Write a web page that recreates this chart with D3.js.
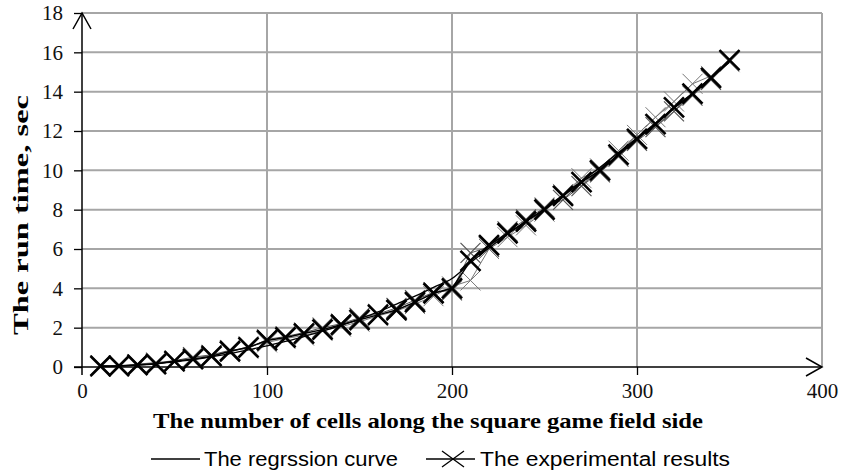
<!DOCTYPE html>
<html><head><meta charset="utf-8">
<script src="https://cdn.jsdelivr.net/npm/d3@7"></script>
<style>body{margin:0;background:#fff}svg{display:block}</style>
</head><body><svg id="c" width="841" height="475"></svg>
<script>
const xTicks = [0,100,200,300,400];
const yTicks = [0,2,4,6,8,10,12,14,16,18];
const cells = [10,20,30,40,50,60,70,80,90,100,110,120,130,140,150,160,170,180,190,200,210,220,230,240,250,260,270,280,290,300,310,320,330,340,350];
const experimental = [0.05,0.05,0.1,0.15,0.3,0.4,0.55,0.8,1.0,1.35,1.5,1.7,1.9,2.15,2.4,2.65,2.9,3.3,3.75,4.0,5.4,6.2,6.8,7.4,8.0,8.7,9.4,10.0,10.8,11.6,12.35,13.2,13.9,14.7,15.6];
const experimental2 = [0.02,0.08,0.12,0.2,0.25,0.45,0.6,0.75,1.05,1.25,1.45,1.6,1.85,2.05,2.3,2.6,2.85,3.2,3.6,4.1,4.4,6.0,6.6,7.2,7.9,8.8,9.6,10.1,11.0,11.8,12.7,13.5,14.4,14.8,15.5];
const experimental3 = [0.08,0.03,0.15,0.22,0.32,0.5,0.62,0.85,0.95,1.4,1.55,1.75,2.0,2.2,2.5,2.7,3.0,3.4,3.8,3.9,5.8,6.1,6.9,7.5,8.1,8.5,9.2,9.9,10.7,11.5,12.2,13.0,13.8,14.6,15.6];
const regression = [0.02,0.05,0.1,0.17,0.26,0.38,0.52,0.68,0.87,1.08,1.3,1.55,1.82,2.12,2.45,2.8,3.2,3.6,4.05,4.5,5.3,6.05,6.75,7.4,8.05,8.75,9.45,10.15,10.9,11.65,12.4,13.15,13.9,14.7,15.5];
const xTitle = "The number  of cells along the square game field side";
const yTitle = "The run time, sec";
const legendLabels = ["The regrssion curve","The experimental results"];

const svg = d3.select("#c");
const x = d3.scaleLinear().domain([0,400]).range([82,822]);
const y = d3.scaleLinear().domain([0,18]).range([367,13]);
const serif = "'Liberation Serif','Times New Roman',serif";
const sans = "'Liberation Sans',Arial,sans-serif";

// grid
svg.append("g").selectAll("line").data(yTicks.slice(1)).join("line")
  .attr("x1",x(0)).attr("x2",x(400)).attr("y1",d=>y(d)).attr("y2",d=>y(d))
  .attr("stroke","#a6a6a6").attr("stroke-width",2);
svg.append("g").selectAll("line").data(xTicks.slice(1)).join("line")
  .attr("y1",y(0)).attr("y2",y(18)).attr("x1",d=>x(d)).attr("x2",d=>x(d))
  .attr("stroke","#a6a6a6").attr("stroke-width",2);

// axes
const ax = svg.append("g").attr("transform",`translate(0,${y(0)})`)
  .call(d3.axisBottom(x).tickValues(xTicks).tickSize(8).tickPadding(10));
const ay = svg.append("g").attr("transform",`translate(${x(0)},0)`)
  .call(d3.axisLeft(y).tickValues(yTicks).tickSize(8).tickPadding(11));
[ax,ay].forEach(a=>{
  a.select(".domain").remove();
  a.selectAll(".tick line").attr("stroke","#000").attr("stroke-width",1.3);
  a.selectAll("text").attr("font-family",serif).attr("font-size",21).attr("fill","#111");
});
ax.selectAll("text").attr("dy","0.62em");
ax.selectAll(".tick").filter(d=>d===0).select("line").remove();
ax.selectAll(".tick").filter(d=>d===400).select("line").remove();
// axis lines with arrows
svg.append("line").attr("x1",x(0)).attr("x2",x(0)).attr("y1",y(0)+8).attr("y2",y(18))
  .attr("stroke","#000").attr("stroke-width",1.5);
svg.append("line").attr("x1",x(0)-8).attr("x2",x(400)).attr("y1",y(0)).attr("y2",y(0))
  .attr("stroke","#000").attr("stroke-width",1.5);
svg.append("path").attr("d",`M${x(0)-9},${y(18)+16}L${x(0)},${y(18)}L${x(0)+9},${y(18)+16}`)
  .attr("fill","none").attr("stroke","#000").attr("stroke-width",1.5);
svg.append("path").attr("d",`M${x(400)-16},${y(0)-9}L${x(400)},${y(0)}L${x(400)-16},${y(0)+9}`)
  .attr("fill","none").attr("stroke","#000").attr("stroke-width",1.5);

// series
const line = d3.line().x(d=>x(d[0])).y(d=>y(d[1]));
function drawExp(vals, color, lw, ms, mw){
  const pts = cells.map((c,i)=>[c,vals[i]]);
  svg.append("path").datum(pts).attr("d",line).attr("fill","none").attr("stroke",color).attr("stroke-width",lw);
  svg.append("g").selectAll("path").data(pts).join("path")
    .attr("d",d=>`M${x(d[0])-ms},${y(d[1])-ms}L${x(d[0])+ms},${y(d[1])+ms}M${x(d[0])-ms},${y(d[1])+ms}L${x(d[0])+ms},${y(d[1])-ms}`)
    .attr("stroke",color).attr("stroke-width",mw).attr("fill","none");
}
drawExp(experimental2,"#777",1,10,1);
drawExp(experimental3,"#555",1,10,1.2);
drawExp(experimental,"#000",1.5,10,2.6);
svg.append("path").datum(cells.map((c,i)=>[c,regression[i]]))
  .attr("d",d3.line().x(d=>x(d[0])).y(d=>y(d[1])).curve(d3.curveMonotoneX))
  .attr("fill","none").attr("stroke","#000").attr("stroke-width",1.3);

// titles
svg.append("text").attr("x",428).attr("y",428).attr("text-anchor","middle")
  .attr("font-family",serif).attr("font-weight","bold").attr("font-size",21)
  .attr("textLength",550).attr("lengthAdjust","spacingAndGlyphs").text(xTitle);
svg.append("text").attr("transform",`translate(28,215) rotate(-90)`).attr("text-anchor","middle")
  .attr("font-family",serif).attr("font-weight","bold").attr("font-size",21)
  .attr("textLength",240).attr("lengthAdjust","spacingAndGlyphs").text(yTitle);

// legend
const lg = svg.append("g").attr("transform","translate(0,459)");
lg.append("line").attr("x1",151).attr("x2",200).attr("y1",0).attr("y2",0).attr("stroke","#000").attr("stroke-width",1.3);
lg.append("text").attr("x",204).attr("y",7).attr("font-family",sans).attr("font-size",20)
  .attr("textLength",194).attr("lengthAdjust","spacingAndGlyphs").text(legendLabels[0]);
lg.append("line").attr("x1",426).attr("x2",475).attr("y1",0).attr("y2",0).attr("stroke","#000").attr("stroke-width",1.3);
lg.append("path").attr("d","M442,-8L464,8M442,8L464,-8").attr("stroke","#000").attr("stroke-width",1.3);
lg.append("text").attr("x",480).attr("y",7).attr("font-family",sans).attr("font-size",20)
  .attr("textLength",250).attr("lengthAdjust","spacingAndGlyphs").text(legendLabels[1]);
</script></body></html>
